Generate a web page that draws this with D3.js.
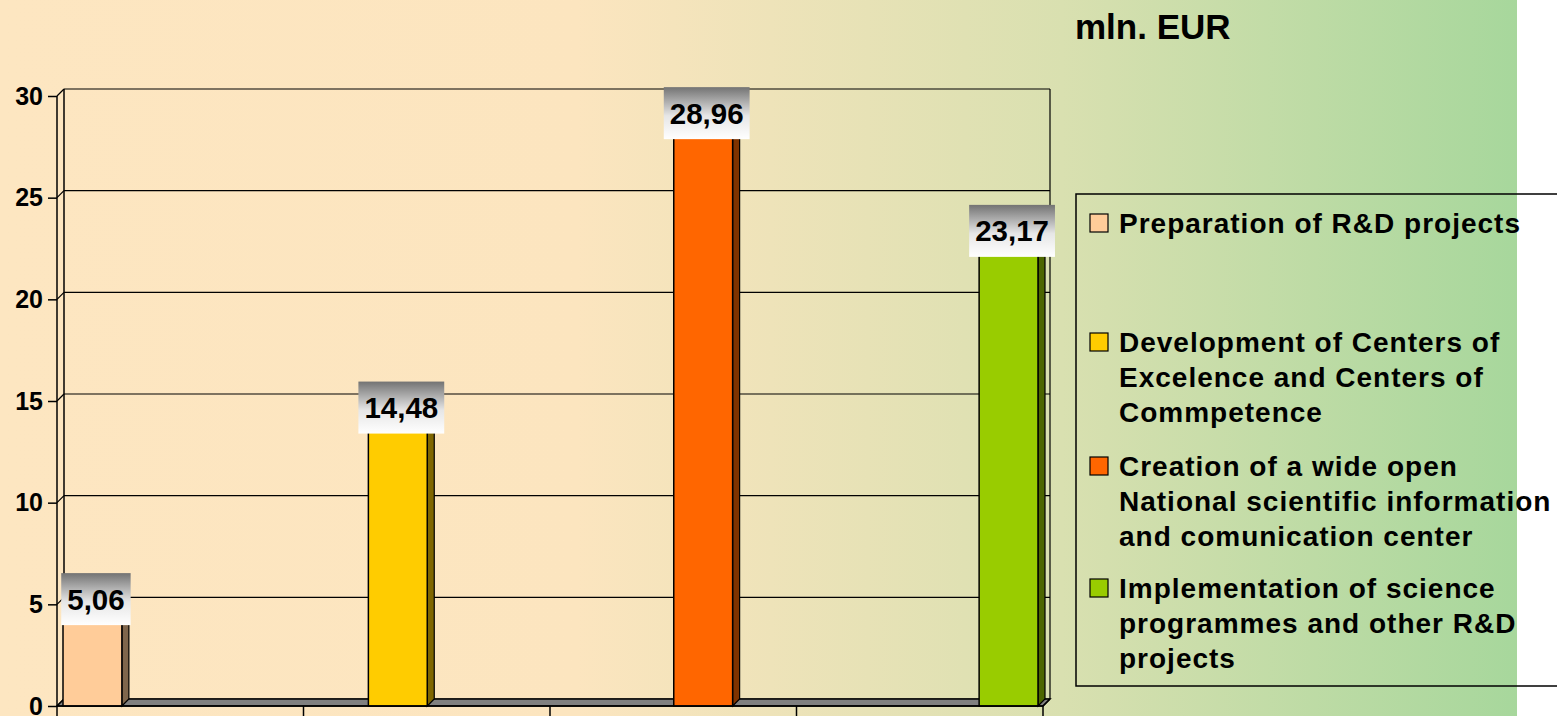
<!DOCTYPE html>
<html>
<head>
<meta charset="utf-8">
<script src="https://cdn.jsdelivr.net/npm/d3@7"></script>
<style>
  html, body { margin: 0; padding: 0; background: #ffffff; }
  svg { display: block; font-family: "Liberation Sans", Arial, sans-serif; }
</style>
</head>
<body>
<svg id="chart" width="1557" height="716"></svg>
<script>
// Funding by measure, million EUR
const seriesNames = [
  "Preparation of R&D projects",
  "Development of Centers of Excelence and Centers of Commpetence",
  "Creation of a wide open National scientific information and comunication center",
  "Implementation of science programmes and other R&D projects"
];
const values = [5.06, 14.48, 28.96, 23.17];
const valueLabels = ["5,06", "14,48", "28,96", "23,17"];
const legendLines = [
  ["Preparation of R&D projects"],
  ["Development of Centers of", "Excelence and Centers of", "Commpetence"],
  ["Creation of a wide open", "National scientific information", "and comunication center"],
  ["Implementation of science", "programmes and other R&D", "projects"]
];
const yTicks = [0, 5, 10, 15, 20, 25, 30];
const frontColors = ["#FFCC99", "#FFCC00", "#FF6600", "#99CC00"];
const sideColors  = ["#7F664C", "#7F6600", "#7F3300", "#4C6600"];
const unitLabel = "mln. EUR";

const svg = d3.select("#chart");
const W = 1557, H = 716;
const bgWidth = 1517;

// background gradient
const defs = svg.append("defs");
const bg = defs.append("linearGradient").attr("id", "bgGrad")
  .attr("x1", "0%").attr("x2", "100%").attr("y1", "0%").attr("y2", "0%");
bg.append("stop").attr("offset", "0%").attr("stop-color", "#FDE6C1");
bg.append("stop").attr("offset", "38%").attr("stop-color", "#FCE5BF");
bg.append("stop").attr("offset", "70%").attr("stop-color", "#D9E0B0");
bg.append("stop").attr("offset", "100%").attr("stop-color", "#A7D79C");

const lblGrad = defs.append("linearGradient").attr("id", "lblGrad")
  .attr("x1", "0%").attr("x2", "0%").attr("y1", "0%").attr("y2", "100%");
lblGrad.append("stop").attr("offset", "0%").attr("stop-color", "#737373");
lblGrad.append("stop").attr("offset", "55%").attr("stop-color", "#E6E6E6");
lblGrad.append("stop").attr("offset", "100%").attr("stop-color", "#FFFFFF");

svg.append("rect").attr("x", 0).attr("y", 0).attr("width", W).attr("height", H).attr("fill", "#ffffff");
svg.append("rect").attr("x", 0).attr("y", 0).attr("width", bgWidth).attr("height", H).attr("fill", "url(#bgGrad)");

// geometry
const left = 57, right = 1043;
const dx = 7, dy = -7;
const y = d3.scaleLinear().domain([0, 30]).range([706, 96]);
const x0 = d3.scaleBand().domain(seriesNames).range([left, right]).padding(0);
const x1 = d3.scaleBand().domain(seriesNames).range([6, x0.bandwidth() - 5]).padding(0);

const g = svg.append("g");
const line = (pts) => "M" + pts.map(p => p.join(",")).join("L") + "Z";

// back wall gridlines
g.selectAll("line.grid").data(yTicks).join("line")
  .attr("x1", left + dx).attr("x2", right + dx)
  .attr("y1", d => y(d) + dy).attr("y2", d => y(d) + dy)
  .attr("stroke", "#000").attr("stroke-width", 1.2);
// left wall diagonals
g.selectAll("line.diag").data(yTicks).join("line")
  .attr("x1", left).attr("x2", left + dx)
  .attr("y1", d => y(d)).attr("y2", d => y(d) + dy)
  .attr("stroke", "#000").attr("stroke-width", 1.2);
// wall verticals
g.append("line").attr("x1", left + dx).attr("x2", left + dx)
  .attr("y1", y(30) + dy).attr("y2", y(0) + dy).attr("stroke", "#000").attr("stroke-width", 1.5);
g.append("line").attr("x1", right + dx).attr("x2", right + dx)
  .attr("y1", y(30) + dy).attr("y2", y(0) + dy).attr("stroke", "#000").attr("stroke-width", 1.2);

// floor
g.append("path")
  .attr("d", line([[left, y(0)], [left + dx, y(0) + dy], [right + dx, y(0) + dy], [right, y(0)]]))
  .attr("fill", "#808080").attr("stroke", "#000").attr("stroke-width", 1.5);

// bars
seriesNames.forEach((name, i) => {
  const bx = x0(name) + x1(name);
  const bw = x1.bandwidth();
  const top = y(values[i]), base = y(0);
  const bar = g.append("g");
  // side face
  bar.append("path")
    .attr("d", line([[bx + bw, base], [bx + bw, top], [bx + bw + dx, top + dy], [bx + bw + dx, base + dy]]))
    .attr("fill", sideColors[i]).attr("stroke", "#000").attr("stroke-width", 1.2);
  // top face
  bar.append("path")
    .attr("d", line([[bx, top], [bx + dx, top + dy], [bx + bw + dx, top + dy], [bx + bw, top]]))
    .attr("fill", frontColors[i]).attr("stroke", "#000").attr("stroke-width", 1.2);
  // front face
  bar.append("rect").attr("x", bx).attr("y", top).attr("width", bw).attr("height", base - top)
    .attr("fill", frontColors[i]).attr("stroke", "#000").attr("stroke-width", 1.5);
});

// front axis lines
const axisG = svg.append("g");
axisG.append("line").attr("x1", left).attr("x2", left).attr("y1", y(30)).attr("y2", y(0))
  .attr("stroke", "#000").attr("stroke-width", 1.5);
axisG.append("line").attr("x1", left).attr("x2", right).attr("y1", y(0)).attr("y2", y(0))
  .attr("stroke", "#000").attr("stroke-width", 1.5);
axisG.append("line").attr("x1", right).attr("x2", right + dx).attr("y1", y(0)).attr("y2", y(0) + dy)
  .attr("stroke", "#000").attr("stroke-width", 1.2);

// y axis ticks and labels
const yAxis = d3.axisLeft(y).tickValues(yTicks).tickSize(9).tickPadding(5).tickFormat(d3.format("d"));
const ya = svg.append("g").attr("transform", `translate(${left},0)`).call(yAxis);
ya.select(".domain").remove();
ya.selectAll(".tick line").attr("stroke", "#000").attr("stroke-width", 1.5);
ya.selectAll(".tick text").attr("fill", "#000").attr("font-size", 25).attr("font-weight", "bold")
  .attr("font-family", "Liberation Sans, Arial, sans-serif");

// category ticks (no labels)
const catTicks = seriesNames.map(n => x0(n)).concat([right]);
svg.selectAll("line.cat").data(catTicks).join("line")
  .attr("x1", d => d).attr("x2", d => d).attr("y1", y(0)).attr("y2", y(0) + 11)
  .attr("stroke", "#000").attr("stroke-width", 1.5);

// value labels
seriesNames.forEach((name, i) => {
  const cx = x0(name) + x1(name) + (x1.bandwidth() + dx) / 2;
  const cy = y(values[i]) - 4;
  const lg = svg.append("g");
  const t = lg.append("text").attr("x", cx).attr("y", cy + 10.5)
    .attr("text-anchor", "middle").attr("font-size", 29.5).attr("font-weight", "bold")
    .attr("fill", "#000").text(valueLabels[i]);
  const tw = t.node().getComputedTextLength();
  lg.insert("rect", "text").attr("x", cx - tw / 2 - 6).attr("y", cy - 26).attr("width", tw + 12).attr("height", 52)
    .attr("fill", "url(#lblGrad)");
});

// unit label
svg.append("text").attr("x", 1075).attr("y", 39).attr("font-size", 35).attr("font-weight", "bold")
  .attr("fill", "#000").text(unitLabel);

// legend
svg.append("rect").attr("x", 1076).attr("y", 194).attr("width", 600).attr("height", 492)
  .attr("fill", "none").attr("stroke", "#000").attr("stroke-width", 1.5);
const legendBase = [233, 352, 476, 598];
const lineH = 35;
seriesNames.forEach((name, i) => {
  const lg = svg.append("g");
  lg.append("rect").attr("x", 1090).attr("y", legendBase[i] - 19).attr("width", 18).attr("height", 18)
    .attr("fill", frontColors[i]).attr("stroke", "#000").attr("stroke-width", 1.2);
  legendLines[i].forEach((ln, j) => {
    lg.append("text").attr("x", 1119).attr("y", legendBase[i] + j * lineH)
      .attr("font-size", 28).attr("font-weight", "bold").attr("letter-spacing", 1)
      .attr("fill", "#000").text(ln);
  });
});
</script>
</body>
</html>
